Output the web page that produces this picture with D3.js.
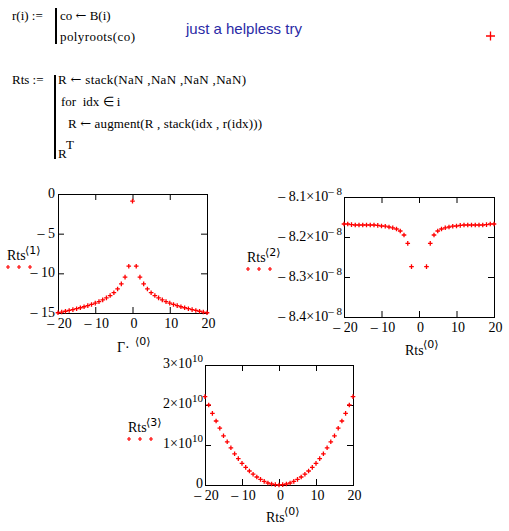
<!DOCTYPE html>
<html><head><meta charset="utf-8">
<script src="https://cdn.jsdelivr.net/npm/d3@7"></script>
<style>
body{margin:0;background:#fff;}
svg{display:block;}
text{font-family:"Liberation Serif","Times New Roman",serif;font-size:14px;fill:#000;white-space:pre;}
text.ws{font-size:13px;}
.ang{font-family:"DejaVu Sans",sans-serif;font-size:11px;}
.sym{font-family:"DejaVu Serif",serif;font-size:13px;}
</style></head><body>
<svg id="c" width="509" height="531"></svg>
<script>
// ---- data ----
const idx = [-20,-19,-18,-17,-16,-15,-14,-13,-12,-11,-10,-9,-8,-7,-6,-5,-4,-3,-2,-1,0,1,2,3,4,5,6,7,8,9,10,11,12,13,14,15,16,17,18,19,20];
const rts1 = [-14.97,-14.88,-14.78,-14.68,-14.57,-14.46,-14.34,-14.21,-14.07,-13.92,-13.75,-13.56,-13.34,-13.09,-12.8,-12.44,-11.97,-11.33,-10.48,-9.1,
              -0.9,
              -9.1,-10.48,-11.33,-11.97,-12.44,-12.8,-13.09,-13.34,-13.56,-13.75,-13.92,-14.07,-14.21,-14.34,-14.46,-14.57,-14.68,-14.78,-14.88,-14.97];
const rts2 = [-8.1675e-8,-8.1675e-8,-8.169e-8,-8.17e-8,-8.17e-8,-8.17e-8,-8.17e-8,-8.17e-8,-8.17e-8,-8.171e-8,-8.1725e-8,-8.173e-8,-8.175e-8,-8.177e-8,-8.18e-8,-8.185e-8,-8.195e-8,-8.216e-8,-8.274e-8,null,
              null,
              null,-8.274e-8,-8.216e-8,-8.195e-8,-8.185e-8,-8.18e-8,-8.177e-8,-8.175e-8,-8.173e-8,-8.1725e-8,-8.171e-8,-8.17e-8,-8.17e-8,-8.17e-8,-8.17e-8,-8.17e-8,-8.17e-8,-8.169e-8,-8.1675e-8,-8.1675e-8];
const rts3 = [2.21e10,2.0e10,1.79e10,1.6e10,1.42e10,1.23e10,1.08e10,0.93e10,0.78e10,0.66e10,0.54e10,0.44e10,0.35e10,0.27e10,0.2e10,0.14e10,0.09e10,0.05e10,0.025e10,0.01e10,
              0,
              0.01e10,0.025e10,0.05e10,0.09e10,0.14e10,0.2e10,0.27e10,0.35e10,0.44e10,0.54e10,0.66e10,0.78e10,0.93e10,1.08e10,1.23e10,1.42e10,1.6e10,1.79e10,2.0e10,2.21e10];
const xTicks = [-20,-10,0,10,20];
const y1Ticks = [0,-5,-10,-15];
const y2Ticks = [-8.1e-8,-8.2e-8,-8.3e-8,-8.4e-8];
const y3Ticks = [0,1e10,2e10,3e10];
const y2Labels = [["– 8.1×10","– 8"],["– 8.2×10","– 8"],["– 8.3×10","– 8"],["– 8.4×10","– 8"]];
const y3Labels = [["0",""],["1×10","10"],["2×10","10"],["3×10","10"]];
const note = "just a helpless try";

const svg = d3.select("#c");

function line(x, y, parts, len){
  const t = svg.append("text").attr("class","ws").attr("x",x).attr("y",y);
  parts.forEach(p=>{ const s=t.append("tspan").text(p[0]); if(p[1]) s.attr("class","sym"); });
  if(len) t.attr("textLength",len).attr("lengthAdjust","spacing");
  return t;
}

// ---- worksheet text ----
line(12,20,[["r(i) :=",0]]);
svg.append("rect").attr("x",55).attr("y",8).attr("width",2).attr("height",36).attr("fill","#000");
line(60,20,[["co ",0],["←",1],[" B(i)",0]]);
line(60,41,[["polyroots(co)",0]],75);
svg.append("text").attr("x",186).attr("y",34).style("font-family","'Liberation Sans',Arial,sans-serif")
   .style("font-size","15px").style("fill","#2a2aa6").text(note);
svg.append("path").attr("d","M486,36H495M490.5,31.5V40.5").attr("stroke","#ff0000").attr("stroke-width",1.3);

line(12,84,[["Rts :=",0]]);
svg.append("rect").attr("x",54).attr("y",75).attr("width",2).attr("height",84).attr("fill","#000");
line(58,84,[["R ",0],["←",1],[" stack(NaN ,NaN ,NaN ,NaN)",0]],188);
line(61,106,[["for  idx ",0],["∈",0],[" i",0]]);
line(68,128,[["R ",0],["←",1],[" augment(R , stack(idx , r(idx)))",0]],194);
const rt = svg.append("text").attr("class","ws").attr("x",58).attr("y",158).text("R");
rt.append("tspan").attr("dy",-9).text("T");

// ---- charts ----
const fmtX = d => d < 0 ? "– " + Math.abs(d) : String(d);

function chart(cfg){
  const g = svg.append("g");
  const x = d3.scaleLinear().domain([-20,20]).range([cfg.left, cfg.left+cfg.w]);
  const y = d3.scaleLinear().domain(cfg.yDomain).range([cfg.top+cfg.h, cfg.top]);
  const T = 6;
  const bot = g.append("g").attr("transform",`translate(0,${cfg.top+cfg.h})`)
    .call(d3.axisBottom(x).tickValues(xTicks).tickSizeInner(-T).tickSizeOuter(0).tickPadding(5).tickFormat(fmtX));
  g.append("g").attr("transform",`translate(0,${cfg.top})`)
    .call(d3.axisTop(x).tickValues(xTicks).tickSizeInner(-T).tickSizeOuter(0).tickFormat(""));
  const lft = g.append("g").attr("transform",`translate(${cfg.left},0)`)
    .call(d3.axisLeft(y).tickValues(cfg.yTicks).tickSizeInner(-T).tickSizeOuter(0).tickPadding(cfg.ypad).tickFormat(""));
  g.append("g").attr("transform",`translate(${cfg.left+cfg.w},0)`)
    .call(d3.axisRight(y).tickValues(cfg.yTicks).tickSizeInner(-T).tickSizeOuter(0).tickFormat(""));
  g.selectAll(".domain").remove();
  g.selectAll(".tick line").attr("stroke","#000");
  g.selectAll(".tick text").attr("font-family",null).attr("font-size",null).attr("fill",null);
  bot.selectAll(".tick text").attr("dx",1);
  lft.selectAll(".tick text").attr("dy",cfg.ydy).each(function(d,i){
    const lab = cfg.yLabels[i];
    const t = d3.select(this).text(lab[0]);
    if(lab[1]) t.append("tspan").attr("dy","-0.6em").style("font-size","11px").text(lab[1]);
  });
  g.append("rect").attr("x",cfg.left+0.5).attr("y",cfg.top+0.5).attr("width",cfg.w).attr("height",cfg.h)
    .attr("fill","none").attr("stroke","#000").attr("stroke-width",1);
  const pts = idx.map((v,i)=>[v,cfg.data[i]]).filter(p=>p[1]!==null);
  g.selectAll("path.pt").data(pts).join("path").attr("class","pt")
    .attr("d",p=>{const cx=x(p[0]), cy=y(p[1]); return `M${cx-2.3},${cy}H${cx+2.3}M${cx},${cy-2.3}V${cy+2.3}`;})
    .attr("stroke","#ff0000").attr("stroke-width",1.3);
  // y label
  const yl = cfg.yl;
  g.append("text").attr("x",yl[0]).attr("y",yl[1]).text("Rts");
  g.append("text").attr("class","ang").attr("x",yl[0]+18).attr("y",yl[1]-6).text("⟨"+cfg.col+"⟩");
  [0,11,22].forEach(dx=>{
    const cx=yl[0]+1+dx, cy=yl[1]+7;
    g.append("path").attr("d",`M${cx-2},${cy}H${cx+2}M${cx},${cy-2}V${cy+2}`).attr("stroke","#ff0000").attr("stroke-width",1.2);
  });
  // x label
  const xl = cfg.xl;
  g.append("text").attr("x",xl[0]).attr("y",xl[1]).text(cfg.xname);
  g.append("text").attr("class","ang").attr("x",xl[0]+cfg.xsupdx).attr("y",xl[1]-7).text("⟨0⟩");
}

chart({left:58, top:194, w:149, h:119, yDomain:[-15,0], yTicks:y1Ticks,
  yLabels:y1Ticks.map(d=>[fmtX(d),""]), ypad:3, ydy:"0.26em", data:rts1, col:1,
  yl:[7,260], xl:[117,352], xname:"Γ·", xsupdx:18});
chart({left:344, top:197, w:150, h:120, yDomain:[-8.4e-8,-8.1e-8], yTicks:y2Ticks,
  yLabels:y2Labels, ypad:2, ydy:"0.26em", data:rts2, col:2,
  yl:[247,262], xl:[405,355], xname:"Rts", xsupdx:18});
chart({left:205, top:365, w:148, h:120, yDomain:[0,3e10], yTicks:y3Ticks,
  yLabels:y3Labels, ypad:2, ydy:"0.2em", data:rts3, col:3,
  yl:[128,432], xl:[266,522], xname:"Rts", xsupdx:18});
</script>
</body></html>
